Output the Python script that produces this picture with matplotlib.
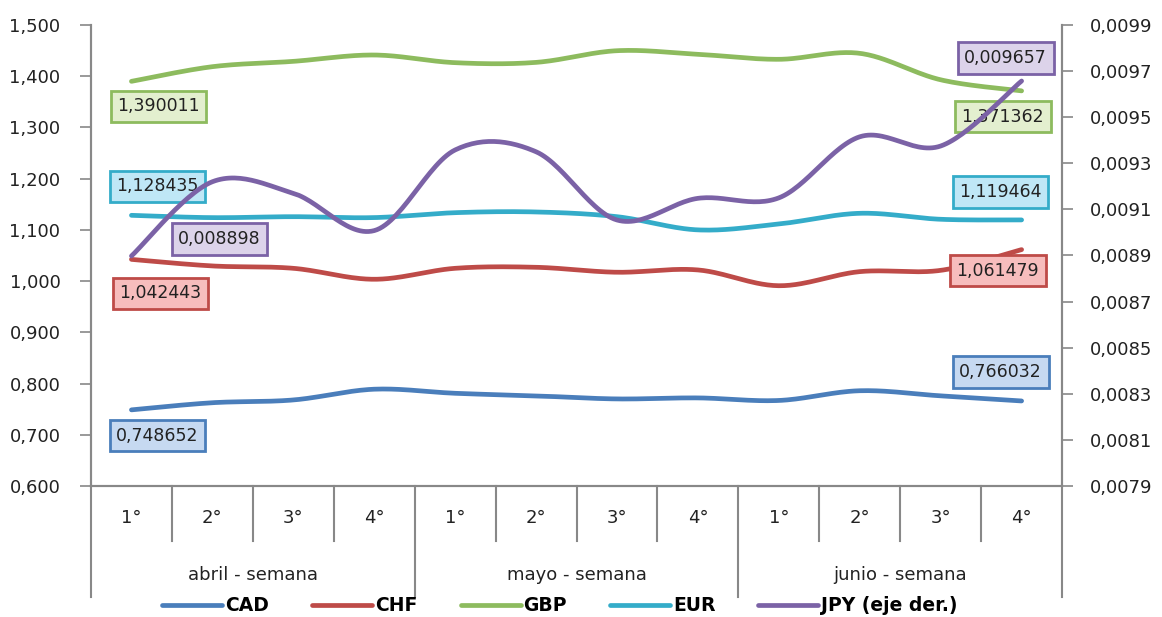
import numpy as np
import matplotlib
matplotlib.use("Agg")
import matplotlib.pyplot as plt
from matplotlib.ticker import FuncFormatter

# datos semanales
semanas = ["1°", "2°", "3°", "4°"] * 3
meses = ["abril - semana", "mayo - semana", "junio - semana"]

cad = [0.748652, 0.7626, 0.768, 0.789, 0.781, 0.776, 0.770, 0.772, 0.767, 0.786, 0.776, 0.766032]
chf = [1.042443, 1.0296, 1.025, 1.0036, 1.025, 1.027, 1.0173, 1.0218, 0.991, 1.0185, 1.021, 1.061479]
gbp = [1.390011, 1.4186, 1.429, 1.4414, 1.4264, 1.427, 1.4498, 1.4428, 1.433, 1.4447, 1.393, 1.371362]
eur = [1.128435, 1.1239, 1.1258, 1.124, 1.1336, 1.135, 1.1258, 1.100, 1.1115, 1.1324, 1.1207, 1.119464]
jpy = [0.008898, 0.00922, 0.00917, 0.009008, 0.009358, 0.00935, 0.009054, 0.009148, 0.00915, 0.009415, 0.009375, 0.009657]

colores = {"CAD": "#4A7EBB", "CHF": "#BE4B48", "GBP": "#8DBB5E", "EUR": "#34ACC9", "JPY": "#7B62A6"}
rellenos = {"CAD": "#C6D9F1", "CHF": "#F7BDBD", "GBP": "#E3EFCF", "EUR": "#BFE7F6", "JPY": "#DCD3EA"}


def suavizar(y, n=30):
    # curva suave tipo Excel (Catmull-Rom / Bezier)
    y = np.asarray(y, dtype=float)
    x = np.arange(len(y), dtype=float)
    xp = np.concatenate([[x[0]], x, [x[-1]]])
    yp = np.concatenate([[y[0]], y, [y[-1]]])
    xs, ys = [], []
    t = np.linspace(0, 1, n)
    for i in range(len(y) - 1):
        p0 = np.array([xp[i + 1], yp[i + 1]])
        p3 = np.array([xp[i + 2], yp[i + 2]])
        c1 = p0 + (p3 - np.array([xp[i], yp[i]])) / 6
        c2 = p3 - (np.array([xp[i + 3], yp[i + 3]]) - p0) / 6
        pts = ((1 - t) ** 3)[:, None] * p0 + (3 * (1 - t) ** 2 * t)[:, None] * c1 \
            + (3 * (1 - t) * t ** 2)[:, None] * c2 + (t ** 3)[:, None] * p3
        xs.extend(pts[:, 0])
        ys.extend(pts[:, 1])
    return np.array(xs), np.array(ys)


plt.rcParams['font.family'] = ['DejaVu Sans']
fig = plt.figure(figsize=(11.62, 6.17), dpi=100)
ax = fig.add_axes([0.0783, 0.2123, 0.8357, 0.7472])
ax2 = ax.twinx()

gris = "#888888"
lw = 3.4
lineas = []
for nombre, datos in [("CAD", cad), ("CHF", chf), ("GBP", gbp), ("EUR", eur)]:
    xs, ys = suavizar(datos)
    l, = ax.plot(xs, ys, color=colores[nombre], lw=lw, solid_capstyle='round', label=nombre)
    lineas.append(l)
xs, ys = suavizar(jpy)
l, = ax2.plot(xs, ys, color=colores["JPY"], lw=lw, solid_capstyle='round', label="JPY (eje der.)")
lineas.append(l)

ax.set_xlim(-0.5, 11.5)
ax.set_ylim(0.6, 1.5)
ax2.set_ylim(0.0079, 0.0099)
ax.set_yticks(np.arange(0.6, 1.5001, 0.1))
ax2.set_yticks(np.arange(0.0079, 0.00991, 0.0002))
ax.yaxis.set_major_formatter(FuncFormatter(lambda v, p: f"{v:.3f}".replace(".", ",")))
ax2.yaxis.set_major_formatter(FuncFormatter(lambda v, p: f"{v:.4f}".replace(".", ",")))
ax.set_xticks([])

for a in (ax, ax2):
    a.spines['top'].set_visible(False)
    for s in ('left', 'right', 'bottom'):
        a.spines[s].set_color(gris)
        a.spines[s].set_linewidth(1.5)
    a.tick_params(axis='y', length=8, width=1.2, color=gris, labelsize=13, labelcolor="#222222")
ax.tick_params(axis='y', pad=14)
ax2.tick_params(axis='y', pad=12)

# eje de categorias con dos niveles
trans = ax.get_xaxis_transform()
for b in np.arange(-0.5, 12, 1):
    largo = -0.241 if (b + 0.5) % 4 == 0 else -0.119
    ax.plot([b, b], [0, largo], transform=trans, color=gris, lw=1.5, clip_on=False)
for i, s in enumerate(semanas):
    ax.text(i, -0.069, s, transform=trans, ha='center', va='center', fontsize=13, color="#222222")
for j, m in enumerate(meses):
    ax.text(4 * j + 1.5, -0.193, m, transform=trans, ha='center', va='center', fontsize=13, color="#222222")

# etiquetas de datos (primer y ultimo punto)
def etiqueta(a, nombre, x, y, dx, dy, txt):
    a.annotate(txt, (x, y), xytext=(dx, dy), textcoords='offset pixels', ha='center', va='center',
               fontsize=12.5, color="#222222",
               bbox=dict(boxstyle='square,pad=0.38', fc=rellenos[nombre], ec=colores[nombre], lw=2))

etiqueta(ax, "GBP", 0, gbp[0], 27, -25, "1,390011")
etiqueta(ax, "EUR", 0, eur[0], 26, 29, "1,128435")
etiqueta(ax2, "JPY", 0, jpy[0], 88, 17, "0,008898")
etiqueta(ax, "CHF", 0, chf[0], 29, -34, "1,042443")
etiqueta(ax, "CAD", 0, cad[0], 26, -26, "0,748652")
etiqueta(ax2, "JPY", 11, jpy[-1], -16, 23, "0,009657")
etiqueta(ax, "GBP", 11, gbp[-1], -19, -26, "1,371362")
etiqueta(ax, "EUR", 11, eur[-1], -21, 28, "1,119464")
etiqueta(ax, "CHF", 11, chf[-1], -24, -21, "1,061479")
etiqueta(ax, "CAD", 11, cad[-1], -21, 29, "0,766032")

fig.legend(handles=lineas, loc='center', bbox_to_anchor=(0.482, 0.018), ncol=5, frameon=False,
           prop={'weight': 'bold', 'size': 13.5}, handlelength=3.2, columnspacing=2.3, handletextpad=0.15)

fig.savefig("out.png", dpi=100)
